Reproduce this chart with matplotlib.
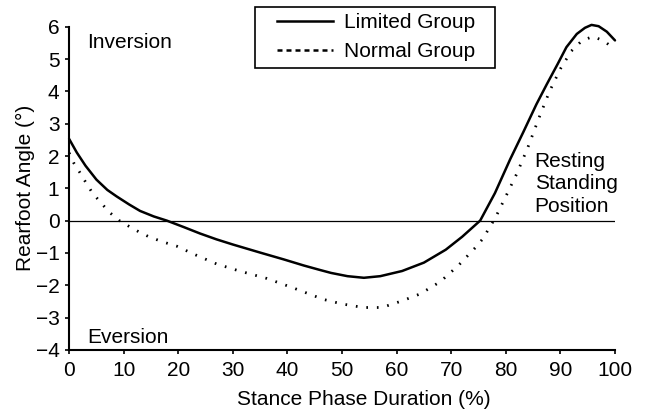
import matplotlib
matplotlib.use('Agg')
import matplotlib.pyplot as plt
from matplotlib.lines import Line2D
from matplotlib.patches import Rectangle

plt.rcParams['font.family'] = ['Liberation Sans', 'DejaVu Sans']

# data (stance % vs rearfoot angle in degrees)
limited_x = [0, 1.4, 3, 5, 7, 8.7, 11, 13, 15.5, 17.9, 21, 24, 27, 30, 35, 39.3, 43, 46,
             48, 51, 54, 57, 61, 65, 69, 72, 75.3, 78, 80.8, 83.2, 85.6, 87.5, 89.5,
             91.1, 93, 94.5, 95.7, 97, 98.5, 100]
limited_y = [2.53, 2.11, 1.7, 1.27, 0.95, 0.75, 0.5, 0.3, 0.13, 0.0, -0.2, -0.4, -0.58,
             -0.74, -0.99, -1.2, -1.39, -1.53, -1.62, -1.72, -1.77, -1.72, -1.56, -1.3,
             -0.9, -0.5, 0.0, 0.85, 1.9, 2.74, 3.6, 4.22, 4.85, 5.37, 5.78, 5.97, 6.06,
             6.02, 5.85, 5.58]

normal_x = [0, 0.8, 2, 3.1, 4.3, 5.8, 7.3, 9.2, 10.9, 12.7, 14.5, 17, 19.7, 23, 27, 31,
            36.2, 41, 46.6, 50, 53.9, 57.3, 60.9, 64.3, 68, 71.3, 74.4, 75.9, 76.8, 78,
            80, 82, 84, 86, 88, 90, 92, 94, 96, 98, 100]
normal_y = [2.1, 1.8, 1.48, 1.17, 0.85, 0.56, 0.27, 0.0, -0.17, -0.34, -0.49, -0.65,
            -0.79, -1.05, -1.34, -1.55, -1.79, -2.08, -2.44, -2.58, -2.69, -2.69, -2.49,
            -2.27, -1.89, -1.39, -0.84, -0.54, -0.27, 0.06, 0.75, 1.45, 2.25, 3.15, 4.0,
            4.7, 5.25, 5.58, 5.7, 5.56, 5.3]

x_ticks = list(range(0, 101, 10))
y_ticks = list(range(-4, 7))
series_names = ['Limited Group', 'Normal Group']

fs = 15

fig = plt.figure(figsize=(6.46, 4.13), dpi=100)
ax = fig.add_axes([0.107, 0.153, 0.845, 0.782])

ax.axhline(0, color='black', lw=0.9, zorder=1)
ax.plot(limited_x, limited_y, color='black', lw=1.8, solid_capstyle='round',
        zorder=3, clip_on=False)
ax.plot(normal_x, normal_y, color='black', lw=2.0, linestyle=(0, (0.6, 3.2)),
        dash_capstyle='butt', zorder=3, clip_on=False)

ax.set_xlim(0, 100)
ax.set_ylim(-4, 6)
ax.set_xticks(x_ticks)
ax.set_yticks(y_ticks)
ax.set_yticklabels([str(v).replace('-', '\u2212') for v in y_ticks])
ax.tick_params(direction='out', length=3, width=1.2, labelsize=fs, colors='black')
ax.tick_params(axis='x', pad=5)
ax.tick_params(axis='y', pad=4)
for side in ['top', 'right']:
    ax.spines[side].set_visible(False)
for side in ['left', 'bottom']:
    ax.spines[side].set_linewidth(1.5)

ax.set_xlabel('Stance Phase Duration (%)', fontsize=fs)
ax.xaxis.set_label_coords(0.54, -0.123)
ax.set_ylabel('Rearfoot Angle (\u00b0)', fontsize=fs)
ax.yaxis.set_label_coords(-0.062, 0.5)

ax.text(3.3, 5.33, 'Inversion', fontsize=fs, va='baseline', ha='left')
ax.text(3.3, -3.78, 'Eversion', fontsize=fs, va='baseline', ha='left')
ax.text(85.3, 2.12, 'Resting\nStanding\nPosition', fontsize=fs, va='top',
        ha='left', linespacing=1.22)

# legend box drawn by hand so the padding matches
fig.patches.append(Rectangle((255 / 646, 1 - 68 / 413), 240 / 646, 61 / 413,
                             transform=fig.transFigure, fill=False,
                             edgecolor='black', lw=1.2))
handles = [Line2D([], [], color='black', lw=1.8),
           Line2D([], [], color='black', lw=1.8, linestyle=(0, (2.0, 1.6)))]
ax.legend(handles, series_names, loc='upper left',
          bbox_to_anchor=(277 / 646, 1 - 13 / 413), bbox_transform=fig.transFigure,
          fontsize=fs, frameon=False, handlelength=2.7, handletextpad=0.5,
          borderpad=0, labelspacing=0.5, borderaxespad=0)

plt.savefig('out.png', dpi=100)
